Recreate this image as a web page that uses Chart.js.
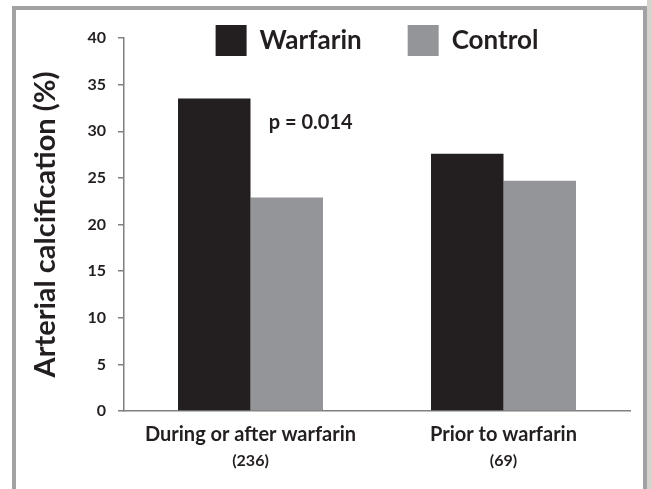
<!DOCTYPE html>
<html>
<head>
<meta charset="utf-8">
<script src="https://cdn.jsdelivr.net/npm/chart.js@4"></script>
<style>
  html, body { margin: 0; padding: 0; background: #fff; }
  #wrap { position: relative; width: 652px; height: 489px; overflow: hidden; }
  #frame {
    position: absolute; left: 12px; top: 6px; width: 627px; height: 483px;
    border: 4px solid #a2a2a4; border-bottom-width: 3px; box-sizing: content-box; pointer-events: none;
  }
  #shadow { position: absolute; left: 647px; top: 0; width: 5px; height: 489px; background: #d6d2ce; }
</style>
</head>
<body>
<div id="wrap">
  <canvas id="chart1" width="652" height="489"></canvas>
  <div id="frame"></div>
  <div id="shadow"></div>
</div>
<script>
// data
var categories = ['During or after warfarin', 'Prior to warfarin'];
var counts = ['(236)', '(69)'];
var warfarin = [33.5, 27.6];
var control = [22.9, 24.7];
var yTicks = [0, 5, 10, 15, 20, 25, 30, 35, 40];
var pText = 'p = 0.014';
var pValueY = 30.9;

var ink = '#231f20';
var font = 'Lato';

// p-value label, placed over the first group through the scales
var pLabel = {
    id: 'pLabel',
    afterDatasetsDraw: function (chart) {
        var bar = chart.getDatasetMeta(1).data[0];
        var ctx = chart.ctx;
        ctx.save();
        ctx.font = 'bold 20px ' + font;
        ctx.fillStyle = ink;
        ctx.textAlign = 'center';
        ctx.textBaseline = 'middle';
        ctx.fillText(pText, bar.x + bar.width * 0.33, chart.scales.y.getPixelForValue(pValueY));
        ctx.restore();
    }
};

// legend sits over the plot top, centred on the plot area
var legendMove = {
    id: 'legendMove',
    afterLayout: function (chart) {
        var lg = chart.legend;
        var ca = chart.chartArea;
        var lab = lg.options.labels;
        var dy = lab.padding + 12;
        var dx = (ca.left + ca.right) / 2 - (lg.left + lg.right) / 2;
        lg.top -= dy;
        lg.bottom = lg.top + lab.padding * 2 + lab.boxHeight;
        lg.height = lg.bottom - lg.top;
        lg.left += dx;
        lg.right += dx;
    }
};

var ctx = document.getElementById('chart1').getContext('2d');
var myChart = new Chart(ctx, {
    type: 'bar',
    data: {
        labels: categories,
        datasets: [{
            label: 'Warfarin',
            data: warfarin,
            backgroundColor: ink,
            borderWidth: 0
        }, {
            label: 'Control',
            data: control,
            backgroundColor: '#939598',
            borderWidth: 0
        }]
    },
    options: {
        responsive: false,
        animation: false,
        layout: {
            padding: { left: 28, right: 22, top: 37, bottom: 14 }
        },
        datasets: {
            bar: {
                categoryPercentage: 0.573,
                barPercentage: 1.0
            }
        },
        plugins: {
            legend: {
                position: 'top',
                align: 'center',
                maxHeight: 1,
                labels: {
                    boxWidth: 31,
                    boxHeight: 31,
                    padding: 46,
                    color: ink,
                    font: { family: font, size: 26, weight: 'bold' }
                }
            },
            tooltip: { enabled: false }
        },
        scales: {
            x: {
                weight: 0,
                afterFit: function (scale) {
                    scale.height = 40;
                },
                grid: { display: false, drawTicks: false },
                border: { color: '#808080', width: 1.5 },
                ticks: {
                    padding: 12,
                    color: ink,
                    font: { family: font, size: 20, weight: 'bold' }
                }
            },
            x2: {
                type: 'category',
                position: 'bottom',
                weight: 1,
                offset: true,
                labels: counts,
                afterFit: function (scale) {
                    scale.height = 24;
                },
                grid: { display: false, drawTicks: false },
                border: { display: false },
                ticks: {
                    padding: 0,
                    color: ink,
                    font: { family: font, size: 16, weight: 'bold' }
                }
            },
            y: {
                min: 0,
                max: 40,
                afterBuildTicks: function (scale) {
                    scale.ticks = yTicks.map(function (v) { return { value: v }; });
                },
                afterFit: function (scale) {
                    scale.width = 96;
                },
                grid: {
                    drawOnChartArea: false,
                    tickLength: 6,
                    color: '#808080',
                    lineWidth: 1.5
                },
                border: { color: '#808080', width: 1.5 },
                ticks: {
                    padding: 12,
                    color: ink,
                    font: { family: font, size: 16, weight: 'bold' }
                },
                title: {
                    display: true,
                    text: 'Arterial calcification (%)',
                    color: ink,
                    padding: 0,
                    font: { family: font, size: 29, weight: 'bold' }
                }
            }
        }
    },
    plugins: [pLabel, legendMove]
});
</script>
</body>
</html>
